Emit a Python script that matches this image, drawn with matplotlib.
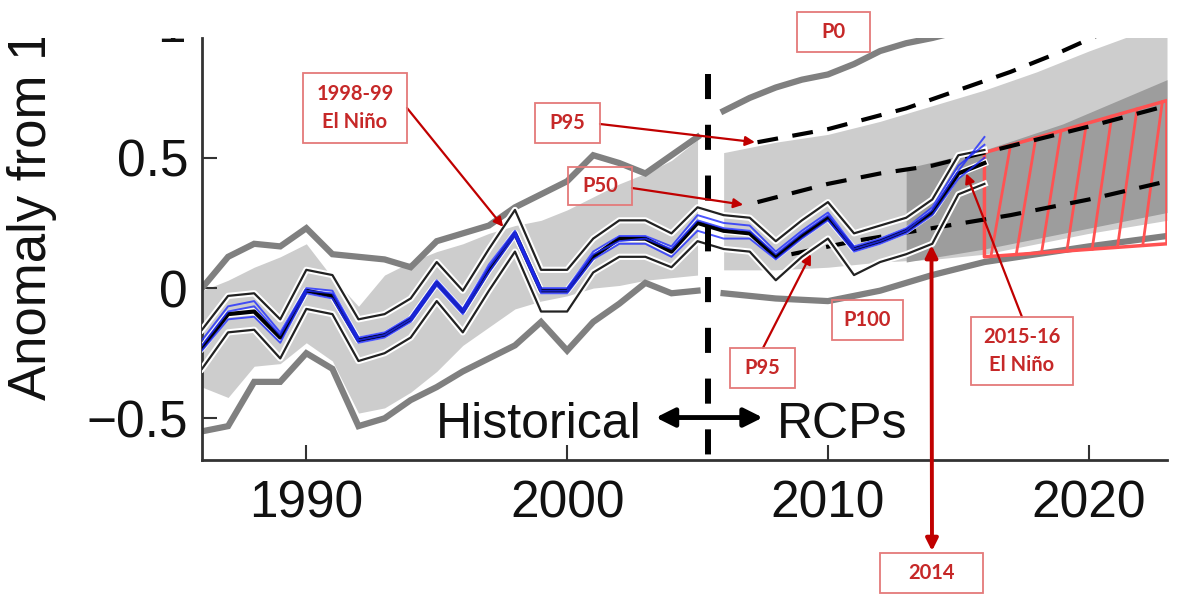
import numpy as np
import matplotlib.pyplot as plt
import matplotlib.patheffects as pe
from matplotlib.patches import Rectangle
from matplotlib.transforms import Bbox, TransformedBbox

plt.rcParams['font.family'] = ['Liberation Sans', 'DejaVu Sans']

# ---- data ----
obs_years = np.arange(1986, 2017)
obs_mid = [-0.23, -0.10, -0.09, -0.19, -0.01, -0.03, -0.20, -0.18, -0.12, 0.02,
           -0.09, 0.07, 0.21, -0.01, -0.01, 0.12, 0.19, 0.19, 0.14, 0.25,
           0.22, 0.21, 0.12, 0.20, 0.27, 0.15, 0.18, 0.22, 0.29, 0.44, 0.48]
obs_upper = [-0.16, -0.03, -0.02, -0.12, 0.07, 0.05, -0.12, -0.10, -0.04, 0.10,
             -0.01, 0.15, 0.30, 0.07, 0.07, 0.19, 0.26, 0.26, 0.21, 0.31,
             0.28, 0.27, 0.18, 0.26, 0.33, 0.21, 0.24, 0.27, 0.34, 0.51, 0.53]
obs_lower = [-0.31, -0.17, -0.16, -0.27, -0.08, -0.10, -0.28, -0.25, -0.19, -0.05,
             -0.17, -0.01, 0.14, -0.09, -0.09, 0.06, 0.12, 0.12, 0.08, 0.18,
             0.15, 0.14, 0.03, 0.12, 0.19, 0.05, 0.10, 0.13, 0.17, 0.36, 0.40]
blue_a = [-0.20, -0.07, -0.05, -0.17, 0.00, -0.01, -0.19, -0.17, -0.11, 0.03,
          -0.08, 0.09, 0.22, 0.00, 0.00, 0.14, 0.20, 0.20, 0.16, 0.28,
          0.25, 0.24, 0.14, 0.22, 0.29, 0.16, 0.19, 0.23, 0.31, 0.47, 0.55]
blue_b = [-0.24, -0.12, -0.11, -0.21, -0.02, -0.04, -0.21, -0.19, -0.13, 0.01,
          -0.10, 0.06, 0.20, -0.02, -0.02, 0.11, 0.17, 0.17, 0.12, 0.22,
          0.19, 0.19, 0.11, 0.19, 0.26, 0.14, 0.17, 0.21, 0.28, 0.42, 0.50]
blue_c = [-0.22, -0.09, -0.07, -0.18, -0.01, -0.02, -0.20, -0.18, -0.12, 0.02,
          -0.09, 0.08, 0.21, -0.01, -0.01, 0.13, 0.18, 0.19, 0.15, 0.26,
          0.23, 0.22, 0.13, 0.21, 0.28, 0.15, 0.18, 0.22, 0.30, 0.45, 0.58]

hist_years = np.arange(1986, 2006)
hist_top = [-0.01, 0.03, 0.08, 0.12, 0.17, 0.04, -0.07, 0.05, 0.10, 0.14,
            0.17, 0.21, 0.24, 0.26, 0.30, 0.35, 0.40, 0.44, 0.49, 0.57]
hist_bot = [-0.38, -0.42, -0.30, -0.29, -0.21, -0.28, -0.48, -0.46, -0.40, -0.32,
            -0.22, -0.15, -0.08, -0.05, -0.03, 0.00, 0.01, 0.03, 0.04, 0.05]
hist_p0 = [0.00, 0.12, 0.17, 0.16, 0.23, 0.13, 0.12, 0.11, 0.08, 0.18,
           0.21, 0.24, 0.31, 0.36, 0.41, 0.51, 0.48, 0.44, 0.51, 0.58]
hist_p100 = [-0.55, -0.53, -0.36, -0.36, -0.25, -0.31, -0.53, -0.50, -0.43, -0.38,
             -0.32, -0.27, -0.22, -0.13, -0.24, -0.13, -0.06, 0.02, -0.02, -0.01]

rcp_years = [2006, 2008, 2010, 2012, 2014, 2016, 2018, 2020, 2023]
rcp_top = [0.52, 0.56, 0.59, 0.64, 0.70, 0.76, 0.83, 0.91, 1.02]
rcp_bot = [0.07, 0.07, 0.08, 0.10, 0.11, 0.13, 0.17, 0.21, 0.26]
rcp_p100 = [-0.02, -0.04, -0.05, -0.01, 0.05, 0.10, 0.13, 0.16, 0.20]

dark_years = [2013, 2016, 2019, 2023]
dark_top = [0.46, 0.53, 0.63, 0.80]
dark_bot = [0.10, 0.15, 0.21, 0.29]

p0_years = [2006, 2007, 2008, 2009, 2010, 2011, 2012, 2013, 2014, 2016, 2020, 2023]
p0_vals = [0.68, 0.73, 0.77, 0.80, 0.82, 0.86, 0.91, 0.94, 0.96, 1.01, 1.10, 1.16]

p95_years = [2007.3, 2010, 2013, 2015, 2017, 2019, 2021, 2023]
p95_vals = [0.56, 0.61, 0.69, 0.76, 0.83, 0.91, 1.00, 1.08]
p50_years = [2007.3, 2010, 2012, 2014, 2016, 2018, 2020, 2023]
p50_vals = [0.33, 0.40, 0.44, 0.47, 0.52, 0.57, 0.62, 0.70]
p5_years = [2008.6, 2011, 2014, 2017, 2020, 2023]
p5_vals = [0.13, 0.18, 0.23, 0.28, 0.34, 0.41]

hatch_years = [2016, 2023]
hatch_top = [0.52, 0.72]
hatch_bot = [0.12, 0.17]

split_year = 2005.4

# ---- figure ----
W, H = 1177, 594
fig = plt.figure(figsize=(W / 100, H / 100), dpi=100)
ax = fig.add_axes([202 / W, 1 - 460 / H, 965 / W, 422 / H])

lgray = '#cdcdcd'
dgray = '#9d9d9d'
lcol = '#808080'

ax.fill_between(hist_years, hist_bot, hist_top, color=lgray, lw=0, zorder=1)
ax.fill_between(rcp_years, rcp_bot, rcp_top, color=lgray, lw=0, zorder=1)
ax.fill_between(dark_years, dark_bot, dark_top, color=dgray, lw=0, zorder=1.5)

ax.plot(hist_years, hist_p0, color=lcol, lw=4.5, solid_joinstyle='miter', zorder=2)
ax.plot(hist_years, hist_p100, color=lcol, lw=4.5, solid_joinstyle='miter', zorder=2)
ax.plot(p0_years, p0_vals, color=lcol, lw=4.5, zorder=2)
ax.plot(rcp_years, rcp_p100, color=lcol, lw=4.5, zorder=2)

# red hatched box for the post-2016 range
hx = np.array(hatch_years)
ax.fill_between(hx, hatch_bot, hatch_top, facecolor='none', edgecolor='#ff5252',
                lw=2.5, zorder=3)
for k in range(7):
    xb = 2016.25 + k * 0.97
    xt = xb + 0.75
    ax.plot([xb, xt], [np.interp(xb, hx, hatch_bot), np.interp(xt, hx, hatch_top)],
            color='#ff5252', lw=2, zorder=3)

dash = (0, (5, 3.5))
ax.plot(p95_years, p95_vals, color='k', lw=3, ls=dash, zorder=4)
ax.plot(p50_years, p50_vals, color='k', lw=3, ls=dash, zorder=4)
ax.plot(p5_years, p5_vals, color='k', lw=3, ls=dash, zorder=4)

halo = [pe.Stroke(linewidth=4.5, foreground='white'), pe.Normal()]
ax.plot(obs_years, obs_upper, color='#222222', lw=1.6, path_effects=halo, zorder=5)
ax.plot(obs_years, obs_lower, color='#222222', lw=1.6, path_effects=halo, zorder=5)
ax.plot(obs_years, obs_mid, color='k', lw=3, path_effects=[pe.Stroke(linewidth=5, foreground='white'), pe.Normal()], zorder=5)
for b in (blue_a, blue_b, blue_c):
    ax.plot(obs_years, b, color='#1f2cff', lw=1.4, alpha=0.8, zorder=6)

ax.plot([split_year, split_year], [0.82, -0.66], color='k', lw=4.3,
        ls=(0, (4.2, 4.3)), zorder=7, clip_on=False)

ax.set_xlim(1986, 2023)
ax.set_ylim(-0.66, 0.96)
ax.set_xticks([1990, 2000, 2010, 2020])
ax.set_yticks([-0.5, 0, 0.5])
ax.set_yticklabels(['\u22120.5', '0', '0.5'])
ax.tick_params(direction='in', length=11, width=1.5, color='#333333',
               labelsize=37, labelcolor='#111111')
ax.tick_params(axis='x', pad=14)
ax.tick_params(axis='y', pad=10)
for s in ('top', 'right'):
    ax.spines[s].set_visible(False)
for s in ('left', 'bottom'):
    ax.spines[s].set_color('#333333')
    ax.spines[s].set_linewidth(2)
ax.set_facecolor('none')

ax.text(1998.9, -0.575, 'Historical', ha='center', va='baseline', fontsize=36, color='#111111', zorder=8)
ax.text(2008.05, -0.575, 'RCPs', ha='left', va='baseline', fontsize=36, color='#111111', zorder=8)
ax.annotate('', xy=(2003.4, -0.497), xytext=(2007.5, -0.497),
            arrowprops=dict(arrowstyle='<|-|>', color='k', lw=3.5, mutation_scale=28,
                            shrinkA=0, shrinkB=0), zorder=8)

# y label, cut off at the top as in the source image
clip = TransformedBbox(Bbox([[0, 0], [1, 1 - 38 / H]]), fig.transFigure)
t = fig.text(32 / W, 1 - 400 / H, 'Anomaly from 1961\u20131990', rotation=90,
             ha='center', va='bottom', fontsize=38, color='#111111')
t.set_clip_box(clip)
t.set_clip_on(True)
t1 = fig.text(186 / W, 1 - 28 / H, '1', ha='right', va='center', fontsize=37, color='#111111')
t1.set_clip_box(clip)
t1.set_clip_on(True)

# red callouts
tcol = '#c62828'
acol = '#c00000'


def box(x0, y0, x1, y1, text):
    fig.add_artist(Rectangle((x0 / W, 1 - y1 / H), (x1 - x0) / W, (y1 - y0) / H,
                             transform=fig.transFigure, fill=False, ec='#e47a7a', lw=1.3,
                             zorder=10))
    fig.text((x0 + x1) / 2 / W, 1 - (y0 + y1) / 2 / H, text, ha='center', va='center',
             color=tcol, fontsize=14.5, fontweight='bold', family=['Lato', 'DejaVu Sans'],
             linespacing=1.45, zorder=11)


def arrow(target, start, lw=1.6, style='-|>', ms=14):
    ax.annotate('', xy=target, xycoords='data', xytext=(start[0], H - start[1]),
                textcoords='figure pixels', annotation_clip=False,
                arrowprops=dict(arrowstyle=style, color=acol, lw=lw, mutation_scale=ms,
                                shrinkA=0, shrinkB=0), zorder=12)


box(303, 73, 407, 143, '1998-99\nEl Ni\u00f1o')
box(535, 103, 600, 143, 'P95')
box(568, 167, 632, 205, 'P50')
box(797, 12, 870, 52, 'P0')
box(832, 300, 903, 340, 'P100')
box(730, 348, 795, 388, 'P95')
box(971, 317, 1073, 385, '2015-16\nEl Ni\u00f1o')
box(880, 553, 983, 593, '2014')

arrow((1997.55, 0.235), (407, 108))
arrow((2007.2, 0.56), (600, 124))
arrow((2006.75, 0.32), (632, 188))
arrow((2009.35, 0.13), (763, 348))
arrow((2015.3, 0.44), (1022, 317))
arrow((2013.97, 0.165), (932, 551), lw=2.8, style='<|-|>', ms=18)

fig.savefig('out.png', dpi=100)
